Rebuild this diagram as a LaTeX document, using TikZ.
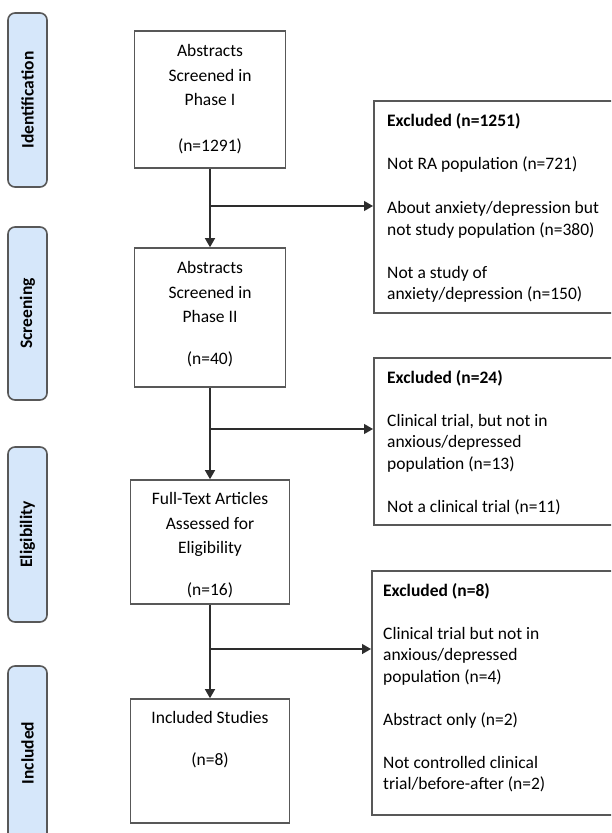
\documentclass[tikz,border=0pt]{standalone}
\usepackage{fontspec}
\setmainfont{Carlito}
\usetikzlibrary{arrows.meta,positioning}
\definecolor{phasefill}{RGB}{214,231,250}
\definecolor{edgegray}{RGB}{88,88,88}
\definecolor{linegray}{RGB}{45,45,45}

\begin{document}
\begin{tikzpicture}[x=1pt,y=-1pt,
  phasebox/.style={draw=edgegray,fill=phasefill,line width=1.6pt,rounded corners=7pt,
    minimum height=39pt,inner sep=0pt,rotate=90,font=\bfseries\fontsize{17.5}{20}\selectfont},
  mainbox/.style={draw=edgegray,line width=1.6pt,inner sep=0pt},
  exclbox/.style={draw=edgegray,line width=1.6pt,inner sep=0pt,anchor=north west,minimum width=247pt},
  maintext/.style={inner sep=0pt,align=center,text=black,font=\fontsize{17.5}{24.5}\selectfont},
  excltext/.style={inner sep=0pt,align=left,text=black,font=\fontsize{17.5}{21.5}\selectfont},
  arr/.style={draw=linegray,line width=1.3pt,-{Triangle[length=9pt,width=10pt]}}]
\useasboundingbox (0,0) rectangle (611,833);
\clip (0,0) rectangle (611,833);

% phases
\node[phasebox,minimum width=174pt] (p1) at (27.5,100) {Identification};
\node[phasebox,minimum width=173pt] (p2) at (27.5,313.5) {Screening};
\node[phasebox,minimum width=175pt] (p3) at (27.5,534.5) {Eligibility};
\node[phasebox,minimum width=174pt] (p4) at (27.5,753) {Included};

% main column
\node[mainbox,minimum width=151pt,minimum height=137pt] (b1) at (210,99.5) {};
\node[mainbox,minimum width=151pt,minimum height=139pt] (b2) at (210,317.5) {};
\node[mainbox,minimum width=159pt,minimum height=124pt] (b3) at (210,542) {};
\node[mainbox,minimum width=159pt,minimum height=124pt] (b4) at (210,761) {};

\node[maintext,below=14pt of b1.north] (t1) {Abstracts\\Screened in\\Phase I\\[21.5pt](n=1291)};
\node[maintext,below=14pt of b2.north] (t2) {Abstracts\\Screened in\\Phase II\\[17.5pt](n=40)};
\node[maintext,below=13pt of b3.north] (t3) {Full-Text Articles\\Assessed for\\Eligibility\\[17.5pt](n=16)};
\node[maintext,below=13pt of b4.north] (t4) {Included Studies\\[17.5pt](n=8)};

% excluded
\node[exclbox,minimum height=212pt] (e1) at (373,100) {};
\node[exclbox,minimum height=167pt] (e2) at (373,357) {};
\node[exclbox,minimum width=249pt,minimum height=244pt] (e3) at (371,570) {};

\node[excltext,below right=13pt and 14pt of e1.north west] (x1) {\textbf{Excluded (n=1251)}\\[21.5pt]
  Not RA population (n=721)\\[23pt]
  About anxiety/depression but\\not study population (n=380)\\[21.5pt]
  Not a study of\\anxiety/depression (n=150)};
\node[excltext,below right=13pt and 14pt of e2.north west] (x2) {\textbf{Excluded (n=24)}\\[21.5pt]
  Clinical trial, but not in\\anxious/depressed\\population (n=13)\\[21.5pt]
  Not a clinical trial (n=11)};
\node[excltext,below right=13pt and 12pt of e3.north west] (x3) {\textbf{Excluded (n=8)}\\[21.5pt]
  Clinical trial but not in\\anxious/depressed\\population (n=4)\\[21.5pt]
  Abstract only (n=2)\\[21.5pt]
  Not controlled clinical\\trial/before-after (n=2)};

% connectors
\draw[arr] (b1) -- (b2);
\draw[arr] (b2) -- (b3);
\draw[arr] (b3) -- (b4);
\coordinate (j1) at (210,206);
\coordinate (j2) at (210,429);
\coordinate (j3) at (210,649);
\draw[arr] (j1) -- (j1 -| e1.west);
\draw[arr] (j2) -- (j2 -| e2.west);
\draw[arr] (j3) -- (j3 -| e3.west);
\end{tikzpicture}
\end{document}
